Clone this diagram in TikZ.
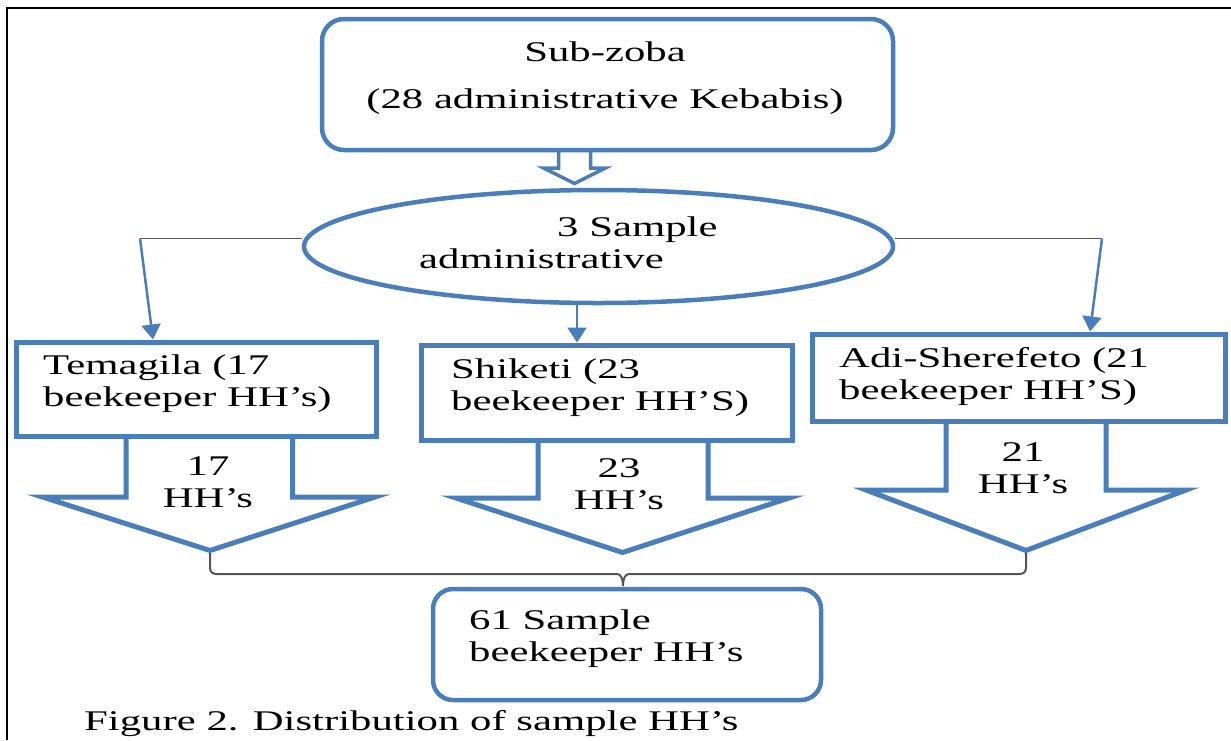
\documentclass[tikz,border=0pt]{standalone}
\usepackage{fontspec}
\setmainfont{Liberation Serif}[FakeStretch=1.5]
\usetikzlibrary{shapes.geometric,arrows.meta}
\definecolor{boxblue}{RGB}{74,126,187}
\definecolor{linegray}{RGB}{85,85,85}
\begin{document}
\begin{tikzpicture}[x=1pt,y=-1pt,
  every node/.style={font=\fontsize{28.5}{32}\selectfont, inner sep=0pt},
  rbox/.style={draw=boxblue, line width=4.5pt, rounded corners=22pt, fill=white},
  sbox/.style={draw=boxblue, line width=5pt, fill=white},
  ellbox/.style={ellipse, draw=boxblue, line width=4.5pt, fill=white},
  blockarrow/.style={draw=boxblue, line width=5pt, fill=white, line join=miter},
  hollow/.style={draw=boxblue, line width=3.5pt, fill=white, line join=miter},
  txt/.style={align=left, anchor=west},
  thinline/.style={draw=linegray, line width=1.6pt},
  bracket/.style={draw=linegray, line width=2pt},
  link/.style={draw=boxblue, line width=2.5pt, -{Triangle[width=19pt,length=15pt]}},
]
\useasboundingbox (0,0) rectangle (1231,740);
% frame
\draw[black, line width=1.8pt] (7,740) -- (7,8) -- (1231,8);

% block arrows (drawn first, tops hidden under boxes)
\draw[hollow] (558.5,146) -- (558.5,168) -- (543.5,168) -- (574.5,183.5) -- (605.5,168) -- (590.5,168) -- (590.5,146) -- cycle;
\draw[blockarrow] (126,436) -- (126,497) -- (42.5,497) -- (210,550.5) -- (375,497) -- (292.5,497) -- (292.5,436);
\draw[blockarrow] (538,440) -- (538,498) -- (456,498) -- (622.5,552.5) -- (789,498) -- (708,498) -- (708,440);
\draw[blockarrow] (946,421) -- (946,490) -- (866,490) -- (1026,550.5) -- (1186,490) -- (1106,490) -- (1106,421);

% boxes
\node[rbox, minimum width=571pt, minimum height=131pt] (sub) at (607.5,84.5) {};
\node[ellbox, minimum width=589pt, minimum height=113pt] (ell) at (598.5,246.5) {};
\node[sbox, minimum width=360pt, minimum height=94pt] (tem) at (196,389) {};
\node[sbox, minimum width=371pt, minimum height=95pt] (shi) at (606.5,392.5) {};
\node[sbox, minimum width=413pt, minimum height=87pt] (adi) at (1018.5,377.5) {};
\node[rbox, rounded corners=20pt, minimum width=388pt, minimum height=111pt] (res) at (627,644.5) {};

% connectors
\coordinate (c1) at (140,238.5);
\coordinate (c3) at (1102,238.5);
\draw[thinline] ([yshift=8pt]ell.west) -- (c1);
\draw[link] (c1) -- ([xshift=-43pt]tem.north);
\draw[thinline] ([yshift=8pt]ell.east) -- (c3);
\draw[link] (c3) -- ([xshift=71.5pt]adi.north);
\draw[link] ([xshift=-21.5pt]ell.south) -- ([xshift=-29.5pt]shi.north);

\coordinate (t1) at (210,553);
\coordinate (t3) at (1026,553);
\coordinate (bv) at (623,586);
\draw[bracket] (t1) -- (210,567) .. controls (210,572) and (212,574) .. (217,574) -- (617,574)
  .. controls (621,574) and (623,579) .. (bv)
  .. controls (623,579) and (625,574) .. (629,574) -- (1019,574)
  .. controls (1024,574) and (1026,572) .. (1026,567) -- (t3);

% texts
\node[align=center] (subt) at (605,78) {Sub-zoba\\[15pt](28 administrative Kebabis)};
\node[txt] (ellt) at (419,243) {\hspace*{138pt}3 Sample\\administrative};
\node[txt] (temt) at (43,384) {Temagila (17\\beekeeper HH’s)};
\node[txt] (shit) at (451,388) {Shiketi (23\\beekeeper HH’S)};
\node[txt] (adit) at (839,376) {Adi-Sherefeto (21\\beekeeper HH’S)};
\node[align=center] (n17) at (208,482.5) {17\\HH’s};
\node[align=center] (n23) at (619,484) {23\\HH’s};
\node[align=center] (n21) at (1023,468) {21\\HH’s};
\node[txt] (rest) at (469,639) {61 Sample\\beekeeper HH’s};
\node[anchor=base west] (cap) at (84,730) {Figure 2. Distribution of sample HH’s};
\end{tikzpicture}
\end{document}
